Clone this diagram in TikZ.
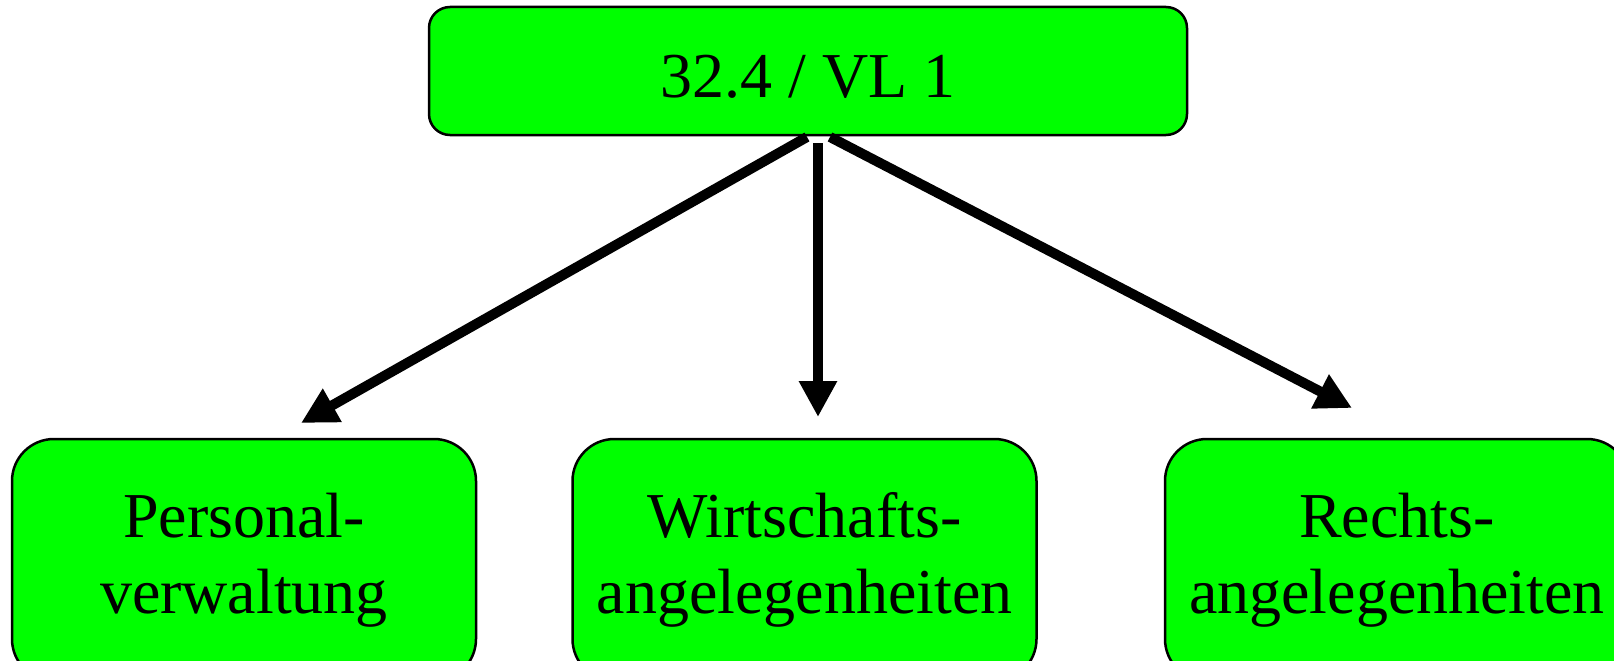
\documentclass[tikz,border=0pt]{standalone}
\usepackage{fontspec}
\setmainfont{Liberation Serif}
\usetikzlibrary{arrows.meta,calc}
\definecolor{boxgreen}{RGB}{0,255,0}
\tikzset{
  box/.style={draw=black, line width=2.5pt, fill=boxgreen, inner sep=0pt,
    font=\fontsize{64}{76}\selectfont, align=center},
  topbox/.style={box, minimum width=758pt, minimum height=128pt, rounded corners=21pt,
    text height=52pt, text depth=0pt},
  leafbox/.style={box, minimum width=464pt, minimum height=242pt, rounded corners=42pt},
  arr/.style={line width=10pt, -{Triangle[length=36pt,width=36pt]}}
}
\begin{document}
\begin{tikzpicture}[x=1pt,y=-1pt]
\clip (0,0) rectangle (1614,661);
\node[topbox] (top) at (808,71) {32.4 / VL 1};
\node[leafbox] (pers) at (244,560) {Personal-\\verwaltung};
\node[leafbox] (wirt) at (804.5,560) {Wirtschafts-\\angelegenheiten};
\node[leafbox] (recht) at (1397,560) {Rechts-\\angelegenheiten};
\coordinate (s1) at (807,137);
\coordinate (s2) at (818,143);
\coordinate (s3) at (830,137);
\coordinate (t1) at (301,423);
\coordinate (t2) at (818,417);
\coordinate (t3) at (1352,408);
\draw[arr] (s1) -- (t1);
\draw[arr] (s2) -- (t2);
\draw[arr] (s3) -- (t3);
\end{tikzpicture}
\end{document}
